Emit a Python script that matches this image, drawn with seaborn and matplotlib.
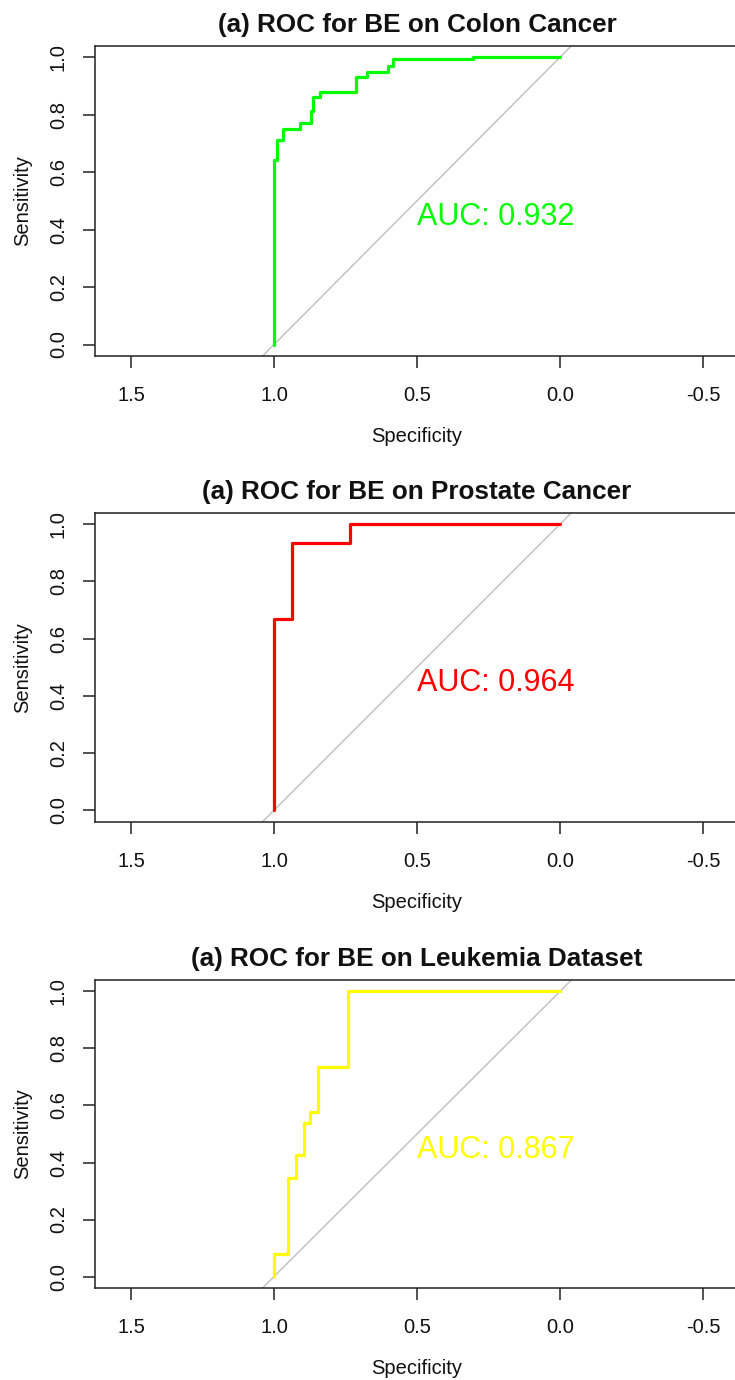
import matplotlib
matplotlib.use("Agg")
import matplotlib.pyplot as plt
import seaborn as sns
import pandas as pd

# ---- data (ROC corner points: specificity, sensitivity) ----
colon_spec = [1.0, 1.0, 0.991, 0.991, 0.967, 0.967, 0.909, 0.909, 0.871, 0.871,
              0.863, 0.863, 0.839, 0.839, 0.713, 0.713, 0.676, 0.676, 0.600, 0.600,
              0.585, 0.585, 0.305, 0.305, 0.0]
colon_sens = [0.0, 0.643, 0.643, 0.713, 0.713, 0.751, 0.751, 0.772, 0.772, 0.813,
              0.813, 0.860, 0.860, 0.879, 0.879, 0.932, 0.932, 0.949, 0.949, 0.971,
              0.971, 0.992, 0.992, 1.0, 1.0]

prostate_spec = [1.0, 1.0, 0.938, 0.938, 0.733, 0.733, 0.0]
prostate_sens = [0.0, 0.667, 0.667, 0.933, 0.933, 1.0, 1.0]

leuk_spec = [1.0, 1.0, 0.950, 0.950, 0.923, 0.923, 0.895, 0.895, 0.874, 0.874,
             0.845, 0.845, 0.740, 0.740, 0.0]
leuk_sens = [0.0, 0.078, 0.078, 0.347, 0.347, 0.425, 0.425, 0.537, 0.537, 0.577,
             0.577, 0.734, 0.734, 1.0, 1.0]

titles = ["(a) ROC for BE on Colon Cancer",
          "(a) ROC for BE on Prostate Cancer",
          "(a) ROC for BE on Leukemia Dataset"]
auc_labels = ["AUC: 0.932", "AUC: 0.964", "AUC: 0.867"]
colors = ["#00FF00", "#FF0000", "#FFFF00"]
x_ticks = [1.5, 1.0, 0.5, 0.0, -0.5]
y_ticks = [0.0, 0.2, 0.4, 0.6, 0.8, 1.0]

series = [(colon_spec, colon_sens), (prostate_spec, prostate_sens), (leuk_spec, leuk_sens)]

sns.set_theme(style="white")
plt.rcParams['font.family'] = ['Liberation Sans', 'DejaVu Sans']

W, H = 735, 1380
fig = plt.figure(figsize=(W / 100, H / 100), dpi=100)

# axes boxes in pixels: (top, bottom)
boxes = [(45.7, 356.0), (512.7, 821.7), (980.0, 1288.0)]
left_px, right_px = 95, 739

for i, ((spec, sens), (top, bot)) in enumerate(zip(series, boxes)):
    ax = fig.add_axes([left_px / W, (H - bot) / H, (right_px - left_px) / W, (bot - top) / H])
    ax.axline((1.0, 0.0), (0.0, 1.0), color="#BEBEBE", lw=1.0, zorder=1)
    df = pd.DataFrame({"Specificity": spec, "Sensitivity": sens})
    sns.lineplot(data=df, x="Specificity", y="Sensitivity", sort=False, estimator=None,
                 color=colors[i], lw=2.3, ax=ax, zorder=3)
    ax.set_xlim(1.626, -0.626)
    ax.set_ylim(-0.04, 1.04)
    ax.set_xticks(x_ticks)
    ax.set_xticklabels([f"{t:.1f}" for t in x_ticks])
    ax.set_yticks(y_ticks)
    ax.set_yticklabels([f"{t:.1f}" for t in y_ticks], rotation=90, va="center")
    ax.tick_params(axis="both", which="both", direction="out", length=8.5, width=1.1,
                   color="#222222", labelsize=14.5, labelcolor="#111111",
                   bottom=True, left=True)
    ax.tick_params(axis="x", pad=13)
    ax.tick_params(axis="y", pad=11)
    for side in ["top", "bottom", "left", "right"]:
        ax.spines[side].set_visible(True)
        ax.spines[side].set_color("#222222")
        ax.spines[side].set_linewidth(1.1)
    ax.set_xlabel("Specificity", fontsize=14.5, labelpad=16, color="#111111")
    ax.set_ylabel("Sensitivity", fontsize=14.5, labelpad=12, color="#111111")
    ax.set_title(titles[i], fontsize=18.8, fontweight="bold", pad=10, color="#111111")
    ax.text(0.5, 0.445, auc_labels[i], color=colors[i], fontsize=22,
            ha="left", va="center", zorder=4)
    ax.grid(False)

fig.savefig("out.png", dpi=100, facecolor="white")
